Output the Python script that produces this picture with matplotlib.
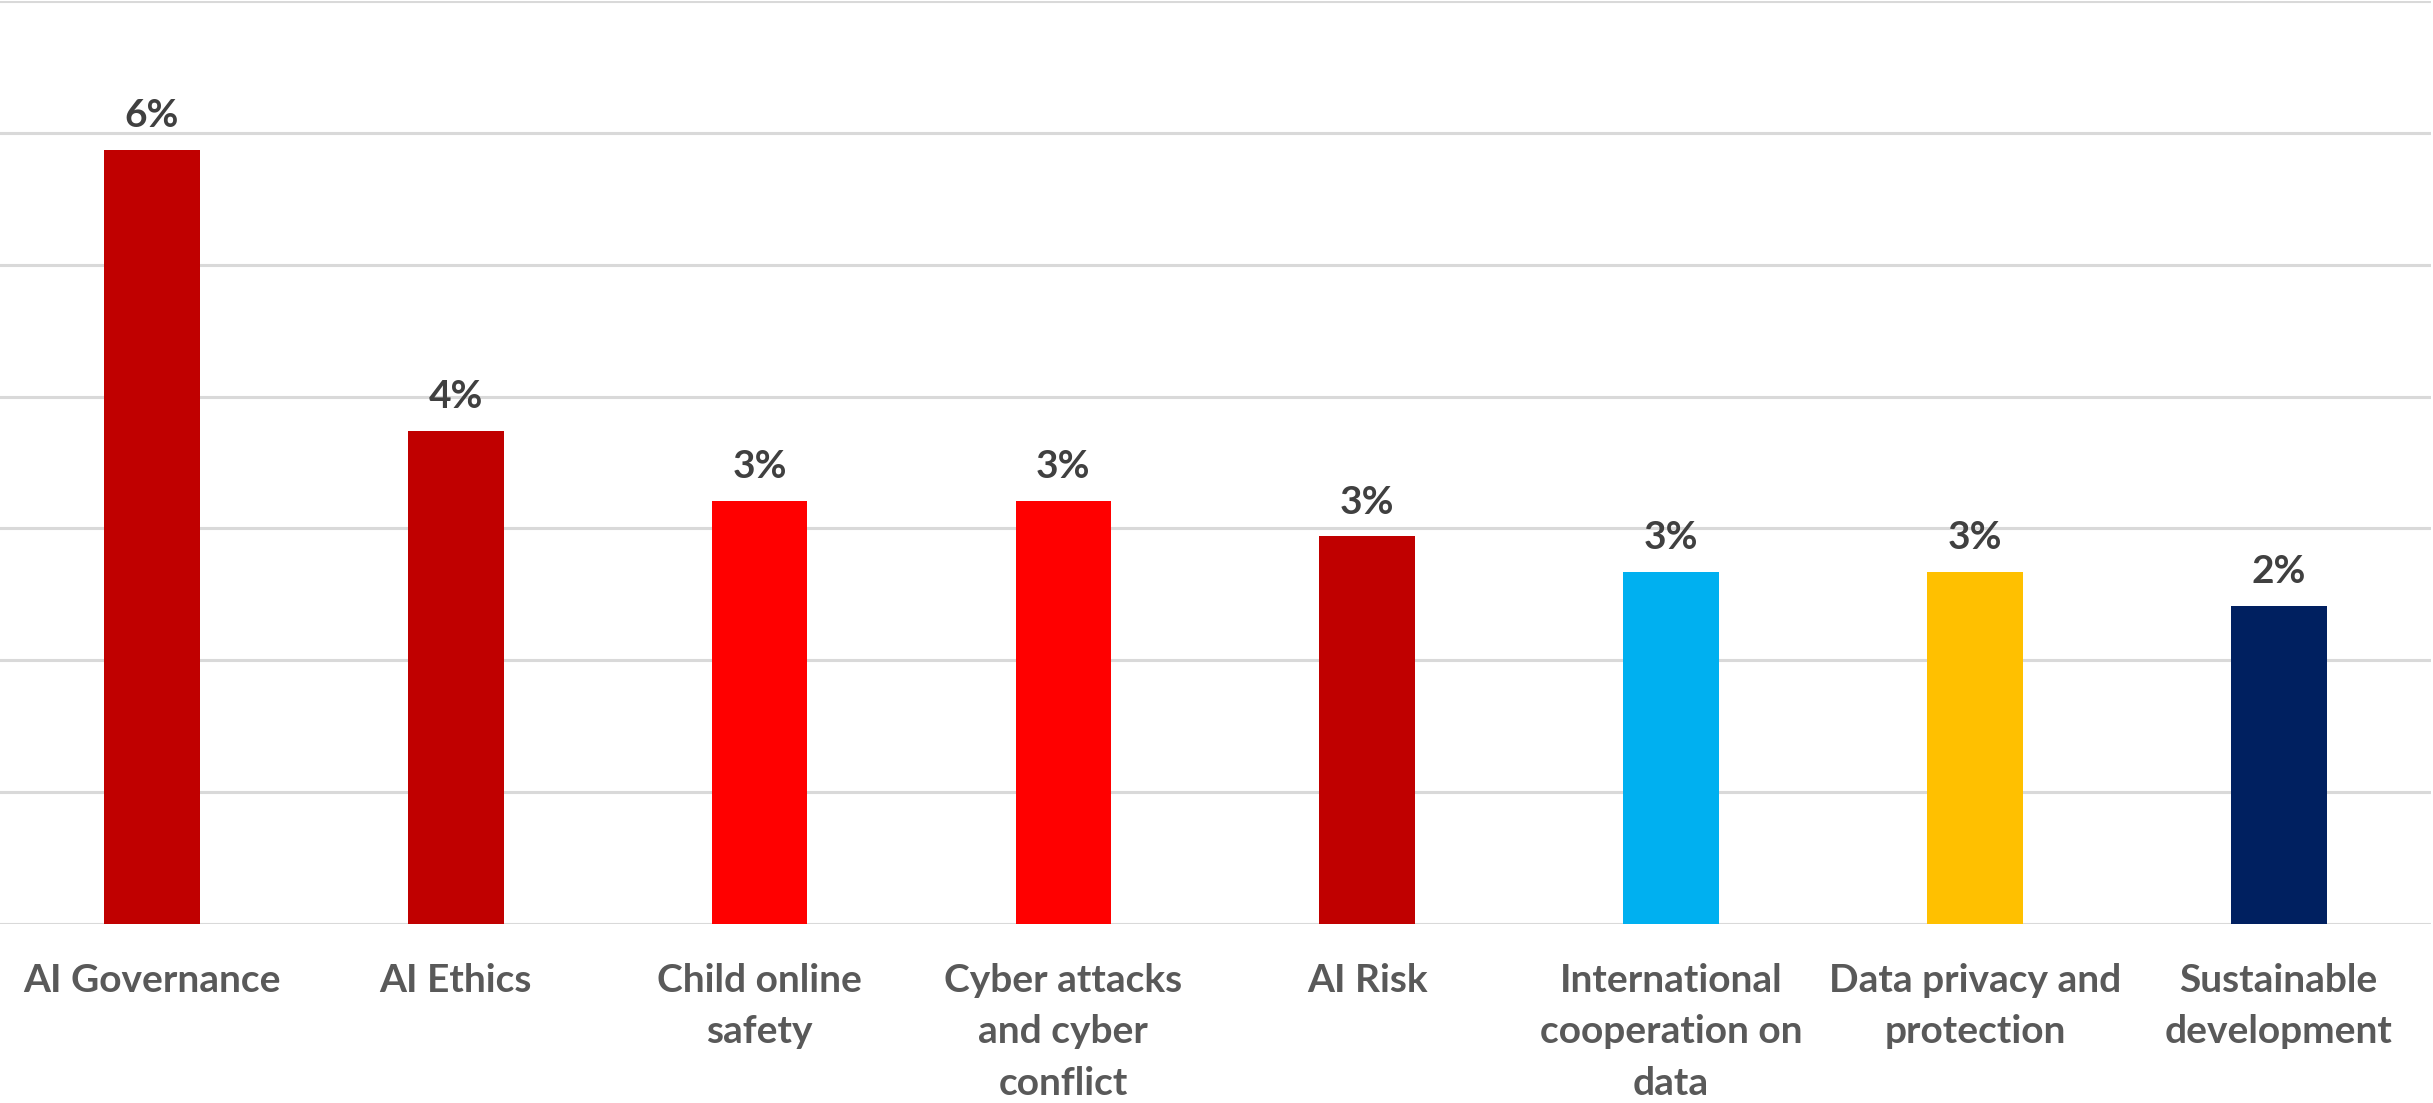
import matplotlib
matplotlib.use("Agg")
import matplotlib.pyplot as plt

categories = ["AI Governance", "AI Ethics", "Child online\nsafety", "Cyber attacks\nand cyber\nconflict",
              "AI Risk", "International\ncooperation on\ndata", "Data privacy and\nprotection",
              "Sustainable\ndevelopment"]
values = [5.87, 3.74, 3.21, 3.21, 2.94, 2.67, 2.67, 2.41]
labels = ["6%", "4%", "3%", "3%", "3%", "3%", "3%", "2%"]
colors = ["#C00000", "#C00000", "#FF0000", "#FF0000", "#C00000", "#00B0F0", "#FFC000", "#002060"]

plt.rcParams["font.family"] = ["Lato", "DejaVu Sans"]

fig = plt.figure(figsize=(24.33, 11.03), dpi=100)
ax = fig.add_axes([0.0, 0.1625, 0.999, 0.8365])

x = range(len(categories))
ax.bar(x, values, width=0.315, color=colors, zorder=3)
ax.set_xlim(-0.5, len(categories) - 0.5)
ax.set_ylim(0, 7)
ax.set_yticks(range(0, 8))
ax.yaxis.grid(True, color="#D9D9D9", linewidth=2.2, zorder=0)
ax.tick_params(axis="y", left=False, labelleft=False)
ax.tick_params(axis="x", length=0, pad=28)
ax.set_xticks(list(x))
ax.set_xticklabels(categories, fontsize=28, fontweight="bold", color="#595959", linespacing=1.58)
for s in ax.spines.values():
    s.set_visible(False)

for i, (v, lab) in enumerate(zip(values, labels)):
    ax.annotate(lab, (i, v), xytext=(0, 12), textcoords="offset points", ha="center", va="bottom",
                fontsize=28, fontweight="bold", color="#404040")

fig.savefig("out.png", dpi=100)
